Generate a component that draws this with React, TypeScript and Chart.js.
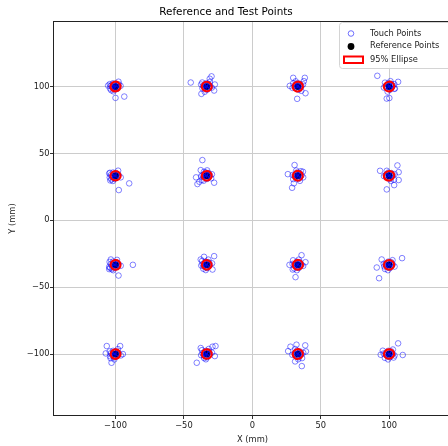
import { useEffect, useRef } from 'react';
import { Chart, registerables } from 'chart.js';

Chart.register(...registerables);

const FONT = '"DejaVu Sans", "Liberation Sans", sans-serif';

const chartTitle = 'Reference and Test Points';
const xAxisTitle = 'X (mm)';
const yAxisTitle = 'Y (mm)';
const legendLabels = ['Touch Points', 'Reference Points', '95% Ellipse'];

const xTickValues = [-100, -50, 0, 50, 100];
const yTickValues = [-100, -50, 0, 50, 100];

// Reference (target) points, row by row from the top
const refX = [-100, -33.3, 33.3, 100, -100, -33.3, 33.3, 100, -100, -33.3, 33.3, 100, -100, -33.3, 33.3, 100];
const refY = [100, 100, 100, 100, 33.3, 33.3, 33.3, 33.3, -33.3, -33.3, -33.3, -33.3, -100, -100, -100, -100];

// 95% ellipse radii (mm) and rotation (deg) per reference point
const ellipseRx = [3.7, 3.6, 3.7, 3.8, 3.7, 3.6, 3.6, 3.8, 3.6, 3.5, 3.7, 3.7, 3.6, 3.6, 3.7, 3.7];
const ellipseRy = [3.6, 3.5, 3.6, 3.6, 3.5, 3.5, 3.6, 3.5, 3.6, 3.5, 3.6, 3.6, 3.5, 3.5, 3.6, 3.5];
const ellipseAngle = [10, -15, 20, 5, 0, 25, -10, 15, 5, -20, 10, 0, 15, -5, 20, 10];

// Touch points (x, y) in mm
const touchPoints: [number, number][] = [
  // (-100, 100)
  [-101.2, 101.5], [-99.1, 100.8], [-102.3, 99.6], [-100.4, 98.7], [-98.6, 99.4], [-101.8, 102.4],
  [-99.7, 102.0], [-102.9, 101.0], [-100.9, 97.8], [-98.9, 98.2], [-103.6, 100.3], [-105.4, 100.7],
  [-104.2, 101.8], [-96.3, 100.5], [-101.5, 96.4], [-103.1, 97.2], [-97.8, 103.6],
  [-100.0, 91.5], [-93.6, 92.5], [-104.0, 98.5], [-97.5, 101.6],
  // (-33.3, 100)
  [-34.5, 101.2], [-32.4, 100.9], [-35.2, 99.3], [-33.8, 98.4], [-31.6, 99.0], [-34.0, 102.3],
  [-32.0, 101.9], [-35.9, 100.6], [-33.1, 97.6], [-30.9, 100.3], [-36.4, 98.6],
  [-37.4, 101.5], [-29.6, 99.2], [-34.8, 96.1], [-31.0, 103.4], [-36.6, 103.0],
  [-45.0, 103.0], [-31.1, 105.8], [-29.8, 107.6], [-37.2, 94.5], [-27.4, 101.5], [-27.9, 97.0],
  // (33.3, 100)
  [32.1, 101.3], [34.4, 100.9], [31.6, 99.1], [33.0, 98.3], [35.1, 99.4], [32.6, 102.4],
  [34.7, 102.0], [30.9, 100.5], [33.9, 97.6], [35.9, 100.4],
  [29.4, 99.0], [37.1, 101.6], [31.7, 103.9], [35.8, 96.8], [29.9, 102.4],
  [29.9, 106.5], [38.4, 106.5], [32.8, 90.8], [38.9, 95.0], [27.4, 100.5], [37.7, 104.0],
  // (100, 100)
  [98.8, 101.3], [101.1, 100.9], [98.3, 99.1], [99.8, 98.3], [101.9, 99.4], [99.4, 102.4],
  [101.6, 102.0], [97.6, 100.5], [100.6, 97.6], [102.8, 100.6], [103.8, 101.8],
  [96.2, 99.2], [103.9, 98.3], [101.0, 104.0], [97.0, 102.9], [98.9, 96.2],
  [91.4, 108.0], [98.3, 91.0], [100.2, 91.4], [106.6, 103.5], [104.2, 98.5],
  // (-100, 33.3)
  [-101.2, 34.6], [-99.0, 34.2], [-102.4, 32.4], [-100.5, 31.6], [-98.5, 32.7], [-101.8, 35.7],
  [-99.6, 35.3], [-103.4, 33.8], [-100.8, 30.9], [-97.8, 33.9], [-104.2, 32.0], [-103.0, 30.6],
  [-104.1, 35.5], [-96.2, 32.1], [-101.9, 29.4], [-98.1, 37.1], [-103.8, 29.8],
  [-90.0, 27.6], [-97.6, 22.6], [-104.6, 35.0],
  // (-33.3, 33.3)
  [-34.5, 34.6], [-32.4, 34.2], [-35.6, 32.4], [-33.8, 31.6], [-31.6, 32.7], [-34.0, 35.7],
  [-32.0, 35.3], [-36.3, 33.8], [-33.1, 30.9], [-30.9, 33.6], [-30.1, 31.4],
  [-37.4, 33.0], [-36.8, 30.2], [-29.5, 34.4], [-33.0, 37.3], [-35.6, 29.6],
  [-36.5, 45.0], [-41.1, 32.1], [-40.1, 27.1], [-27.9, 28.1], [-37.7, 37.5], [-38.7, 28.8], [-35.3, 36.3],
  // (33.3, 33.3)
  [32.1, 34.6], [34.4, 34.2], [31.4, 32.4], [33.0, 31.6], [35.1, 32.7], [32.6, 35.7],
  [34.7, 35.3], [30.9, 33.8], [33.9, 30.9], [36.0, 33.6], [35.5, 36.7],
  [29.5, 33.9], [37.2, 32.1], [32.1, 37.2], [34.8, 29.5], [29.9, 30.8],
  [30.9, 41.3], [26.0, 34.5], [29.1, 24.3], [37.0, 36.3], [30.4, 27.6],
  // (100, 33.3)
  [98.8, 34.6], [101.1, 34.2], [98.0, 32.4], [99.8, 31.6], [101.9, 32.7], [99.4, 35.7],
  [101.6, 35.3], [97.5, 33.8], [100.6, 30.9], [102.7, 33.6],
  [96.3, 33.0], [104.1, 34.5], [101.2, 29.5], [98.3, 37.0], [103.6, 30.4],
  [93.4, 37.0], [106.1, 41.0], [107.0, 36.0], [107.0, 30.1], [103.7, 26.3], [98.3, 23.1],
  // (-100, -33.3)
  [-101.2, -32.0], [-99.0, -32.4], [-102.4, -34.2], [-100.5, -35.0], [-98.5, -33.9], [-101.8, -30.9],
  [-99.6, -31.3], [-103.4, -32.8], [-100.8, -35.7], [-97.8, -32.7], [-104.0, -35.5], [-102.7, -36.6],
  [-104.3, -31.1], [-96.2, -34.0], [-101.6, -37.3], [-98.9, -29.6], [-104.6, -36.5],
  [-87.3, -33.3], [-97.8, -41.3], [-103.4, -29.3], [-104.6, -34.8],
  // (-33.3, -33.3)
  [-34.5, -32.0], [-32.4, -32.4], [-35.6, -34.2], [-33.8, -35.0], [-31.6, -33.9], [-34.0, -30.9],
  [-32.0, -31.3], [-36.3, -32.8], [-33.1, -35.7], [-30.9, -33.0], [-35.8, -36.2],
  [-37.3, -33.8], [-29.4, -32.2], [-34.0, -37.2], [-32.1, -29.4], [-36.7, -30.4],
  [-27.9, -26.8], [-35.3, -27.3], [-29.1, -36.8], [-37.7, -29.3],
  // (33.3, -33.3)
  [32.1, -32.0], [34.4, -32.4], [31.4, -34.2], [33.0, -35.0], [35.1, -33.9], [32.6, -30.9],
  [34.7, -31.3], [30.9, -32.8], [33.9, -35.7], [36.0, -33.2], [30.6, -36.0],
  [29.4, -32.6], [37.2, -34.1], [32.6, -37.3], [34.0, -29.4], [29.8, -29.9],
  [36.0, -26.1], [31.6, -42.5], [27.2, -33.3], [38.9, -31.3], [29.6, -36.8],
  // (100, -33.3)
  [98.8, -32.0], [101.1, -32.4], [98.0, -34.2], [99.8, -35.0], [101.9, -33.9], [99.4, -30.9],
  [101.6, -31.3], [97.5, -32.8], [100.6, -35.7], [102.7, -33.0], [96.5, -34.5],
  [96.1, -32.5], [104.0, -34.6], [99.2, -37.3], [102.5, -29.8], [97.0, -36.4],
  [109.5, -28.3], [91.0, -35.3], [92.7, -43.3], [94.6, -29.3],
  // (-100, -100)
  [-101.2, -98.7], [-99.0, -99.1], [-102.4, -100.9], [-100.5, -101.7], [-98.5, -100.6], [-101.8, -97.6],
  [-99.6, -98.0], [-103.4, -99.5], [-100.8, -102.4], [-97.8, -99.3], [-104.0, -101.6],
  [-104.2, -98.0], [-96.1, -101.0], [-100.9, -104.0], [-98.2, -96.3], [-103.6, -103.1],
  [-106.4, -94.0], [-107.1, -99.5], [-102.9, -106.5], [-96.6, -94.0], [-94.6, -100.0],
  // (-33.3, -100)
  [-34.5, -98.7], [-32.4, -99.1], [-35.6, -100.9], [-33.8, -101.7], [-31.6, -100.6], [-34.0, -97.6],
  [-32.0, -98.0], [-36.3, -99.5], [-33.1, -102.4], [-30.9, -99.7], [-35.2, -103.0],
  [-37.4, -100.8], [-29.5, -98.9], [-33.9, -103.9], [-31.8, -96.2], [-36.8, -97.1],
  [-40.6, -106.5], [-26.9, -94.0], [-27.4, -101.5], [-37.7, -95.5], [-29.1, -94.5],
  // (33.3, -100)
  [32.1, -98.7], [34.4, -99.1], [31.4, -100.9], [33.0, -101.7], [35.1, -100.6], [32.6, -97.6],
  [34.7, -98.0], [30.9, -99.5], [33.9, -102.4], [36.0, -100.0],
  [29.3, -100.6], [37.2, -99.0], [33.6, -103.9], [31.5, -96.3], [36.4, -103.0],
  [27.9, -94.5], [32.3, -93.0], [38.7, -93.5], [36.2, -109.0], [39.2, -98.0], [26.2, -97.8], [31.3, -105.5],
  // (100, -100)
  [98.8, -98.7], [101.1, -99.1], [98.0, -100.9], [99.8, -101.7], [101.9, -100.6], [99.4, -97.6],
  [101.6, -98.0], [97.5, -99.5], [100.6, -102.4], [102.7, -100.0], [103.3, -102.6],
  [96.1, -99.6], [104.0, -101.1], [99.3, -104.0], [102.8, -96.6], [96.9, -102.8],
  [106.6, -92.0], [110.0, -100.7], [93.9, -100.5], [95.4, -97.5],
];

const TOUCH_COLOR = 'rgba(0, 0, 255, 0.55)';

const fmtTick = (v: number) => (v < 0 ? '\u2212' + Math.abs(v) : String(v));

const ellipsePlugin = {
  id: 'ellipses',
  afterDatasetsDraw(chart: any) {
    const { ctx, chartArea, scales } = chart;
    const xs = scales.x;
    const ys = scales.y;
    ctx.save();
    ctx.beginPath();
    ctx.rect(chartArea.left, chartArea.top, chartArea.right - chartArea.left, chartArea.bottom - chartArea.top);
    ctx.clip();
    ctx.strokeStyle = '#ff0000';
    ctx.lineWidth = 2.2;
    for (let i = 0; i < refX.length; i++) {
      const cx = xs.getPixelForValue(refX[i]);
      const cy = ys.getPixelForValue(refY[i]);
      const rx = Math.abs(xs.getPixelForValue(refX[i] + ellipseRx[i]) - cx);
      const ry = Math.abs(ys.getPixelForValue(refY[i] + ellipseRy[i]) - cy);
      ctx.beginPath();
      ctx.ellipse(cx, cy, rx, ry, (-ellipseAngle[i] * Math.PI) / 180, 0, Math.PI * 2);
      ctx.stroke();
    }
    ctx.restore();
  },
};

const framePlugin = {
  id: 'frameAndLegend',
  afterDraw(chart: any) {
    const { ctx, chartArea } = chart;
    ctx.save();
    // axes frame
    ctx.strokeStyle = '#222';
    ctx.lineWidth = 1;
    ctx.strokeRect(
      Math.round(chartArea.left) + 0.5,
      Math.round(chartArea.top) + 0.5,
      Math.round(chartArea.right - chartArea.left),
      Math.round(chartArea.bottom - chartArea.top) - 1
    );

    // legend box
    const bx = 339.5;
    const by = 22.5;
    const bw = 125;
    const bh = 46;
    ctx.beginPath();
    if (ctx.roundRect) ctx.roundRect(bx, by, bw, bh, 3);
    else ctx.rect(bx, by, bw, bh);
    ctx.fillStyle = 'rgba(255,255,255,0.85)';
    ctx.fill();
    ctx.strokeStyle = '#d4d4d4';
    ctx.lineWidth = 1;
    ctx.stroke();

    const rows = [33.5, 46, 59.5];
    // touch marker
    ctx.beginPath();
    ctx.arc(351, rows[0], 2.8, 0, Math.PI * 2);
    ctx.strokeStyle = TOUCH_COLOR;
    ctx.lineWidth = 1;
    ctx.stroke();
    // reference marker
    ctx.beginPath();
    ctx.arc(351, rows[1] + 0.5, 3.4, 0, Math.PI * 2);
    ctx.fillStyle = '#000';
    ctx.fill();
    // ellipse patch
    ctx.fillStyle = '#fff';
    ctx.fillRect(344, 56.5, 19, 6.5);
    ctx.strokeStyle = '#ff0000';
    ctx.lineWidth = 2;
    ctx.strokeRect(344, 56.5, 19, 6.5);

    ctx.fillStyle = '#222';
    ctx.font = `8.3px ${FONT}`;
    ctx.textBaseline = 'middle';
    ctx.textAlign = 'left';
    legendLabels.forEach((t, i) => ctx.fillText(t, 370, rows[i]));
    ctx.restore();
  },
};

export default function App() {
  const canvasRef = useRef<HTMLCanvasElement | null>(null);

  useEffect(() => {
    const canvas = canvasRef.current;
    if (!canvas) return;
    const chart = new Chart(canvas, {
      type: 'scatter',
      data: {
        datasets: [
          {
            label: legendLabels[0],
            data: touchPoints.map(([x, y]) => ({ x, y })),
            pointRadius: 2.8,
            pointBackgroundColor: 'rgba(0,0,0,0)',
            pointBorderColor: TOUCH_COLOR,
            pointBorderWidth: 0.9,
            pointHoverRadius: 2.8,
          },
          {
            label: legendLabels[1],
            data: refX.map((x, i) => ({ x, y: refY[i] })),
            pointRadius: 3.4,
            pointBackgroundColor: '#000',
            pointBorderColor: '#000',
            pointBorderWidth: 0,
            pointHoverRadius: 3.4,
          },
        ],
      },
      options: {
        responsive: false,
        maintainAspectRatio: false,
        devicePixelRatio: 1,
        animation: false,
        events: [],
        layout: { padding: { left: 0, right: 52, top: 0, bottom: 0 } },
        plugins: {
          legend: { display: false },
          tooltip: { enabled: false },
          title: {
            display: true,
            text: chartTitle,
            color: '#000',
            font: { family: FONT, size: 10.4, weight: 'normal' },
            padding: { top: 5.6, bottom: 2.9 },
          },
        },
        scales: {
          x: {
            type: 'linear',
            min: -145.7,
            max: 146,
            afterBuildTicks: (s: any) => {
              s.ticks = xTickValues.map((v) => ({ value: v }));
            },
            afterFit: (s: any) => {
              s.height = 30;
            },
            ticks: {
              callback: (v: any) => fmtTick(Number(v)),
              padding: 2.2,
              autoSkip: false,
              maxRotation: 0,
              color: '#222',
              font: { family: FONT, size: 8.3 },
            },
            grid: { color: '#cccccc', lineWidth: 1, tickColor: '#333', tickLength: 3 },
            border: { display: false },
            title: {
              display: true,
              text: xAxisTitle,
              color: '#222',
              font: { family: FONT, size: 8.3 },
              padding: { top: 0, bottom: 1 },
            },
          },
          y: {
            type: 'linear',
            min: -146.3,
            max: 149,
            afterBuildTicks: (s: any) => {
              s.ticks = yTickValues.map((v) => ({ value: v }));
            },
            afterFit: (s: any) => {
              s.width = 53;
            },
            ticks: {
              callback: (v: any) => fmtTick(Number(v)),
              padding: 0.5,
              autoSkip: false,
              color: '#222',
              font: { family: FONT, size: 8.3 },
            },
            grid: { color: '#cccccc', lineWidth: 1, tickColor: '#333', tickLength: 3 },
            border: { display: false },
            title: {
              display: true,
              text: yAxisTitle,
              color: '#222',
              font: { family: FONT, size: 8.3 },
              padding: { top: 8.3, bottom: 0 },
            },
          },
        },
      },
      plugins: [ellipsePlugin, framePlugin],
    } as any);
    return () => chart.destroy();
  }, []);

  return (
    <div style={{ position: 'absolute', left: 0, top: 0, width: 448, height: 446, overflow: 'hidden', background: '#fff' }}>
      <canvas ref={canvasRef} width={504} height={446} style={{ display: 'block' }} />
    </div>
  );
}
